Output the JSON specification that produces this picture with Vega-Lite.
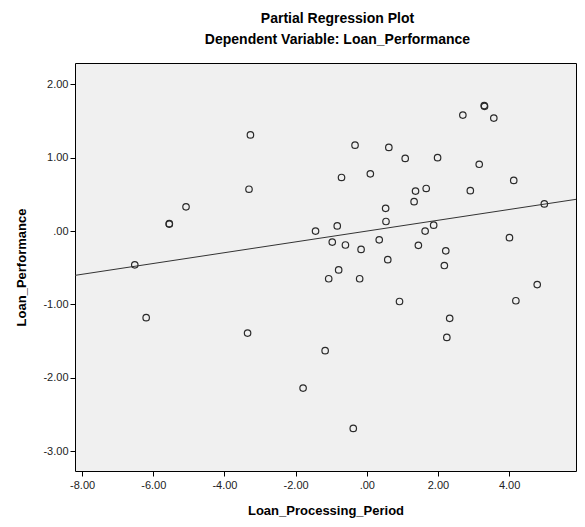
{
  "$schema": "https://vega.github.io/schema/vega-lite/v6.json",
  "width": 501,
  "height": 408,
  "autosize": {"type": "none"},
  "padding": {"left": 75, "top": 63, "right": 9, "bottom": 56},
  "background": "white",
  "config": {
    "view": {"fill": "#f0f0f0", "stroke": "#000000", "strokeWidth": 1},
    "font": "Liberation Sans"
  },
  "title": {
    "text": "Partial Regression Plot",
    "subtitle": "Dependent Variable: Loan_Performance",
    "font": "Liberation Sans",
    "subtitleFont": "Liberation Sans",
    "fontSize": 14,
    "subtitleFontSize": 14,
    "fontWeight": "bold",
    "subtitleFontWeight": "bold",
    "color": "#000000",
    "subtitleColor": "#000000",
    "anchor": "middle",
    "dx": 12,
    "offset": 16,
    "subtitlePadding": 7
  },
  "datasets": {
    "points": [
      {"x": -6.52, "y": -0.46}, {"x": -6.20, "y": -1.18}, {"x": -5.55, "y": 0.095}, {"x": -5.55, "y": 0.10},
      {"x": -5.08, "y": 0.33}, {"x": -3.27, "y": 1.31}, {"x": -3.31, "y": 0.57}, {"x": -3.35, "y": -1.39},
      {"x": -1.44, "y": 0.0}, {"x": -1.79, "y": -2.14}, {"x": -1.17, "y": -1.63}, {"x": -0.38, "y": -2.69},
      {"x": -0.33, "y": 1.17}, {"x": 0.62, "y": 1.14}, {"x": 1.08, "y": 0.99}, {"x": 1.99, "y": 1.0},
      {"x": 3.16, "y": 0.91}, {"x": -0.71, "y": 0.73}, {"x": 0.10, "y": 0.78}, {"x": 4.13, "y": 0.69},
      {"x": 1.37, "y": 0.545}, {"x": 1.67, "y": 0.58}, {"x": 2.91, "y": 0.55}, {"x": 1.33, "y": 0.40},
      {"x": 0.53, "y": 0.31}, {"x": 4.99, "y": 0.37}, {"x": 0.54, "y": 0.13}, {"x": -0.83, "y": 0.07},
      {"x": 1.88, "y": 0.08}, {"x": 1.64, "y": 0.0}, {"x": -0.97, "y": -0.15}, {"x": -0.60, "y": -0.19},
      {"x": -0.16, "y": -0.25}, {"x": 0.35, "y": -0.12}, {"x": 1.45, "y": -0.195}, {"x": 4.01, "y": -0.09},
      {"x": 2.22, "y": -0.27}, {"x": 0.59, "y": -0.39}, {"x": 2.18, "y": -0.47}, {"x": -0.79, "y": -0.53},
      {"x": -1.07, "y": -0.65}, {"x": -0.20, "y": -0.65}, {"x": 0.92, "y": -0.96}, {"x": 2.33, "y": -1.19},
      {"x": 2.25, "y": -1.45}, {"x": 4.79, "y": -0.73}, {"x": 4.19, "y": -0.95}, {"x": 3.30, "y": 1.71},
      {"x": 3.31, "y": 1.70}, {"x": 2.70, "y": 1.58}, {"x": 3.57, "y": 1.54}
    ],
    "fit": [
      {"x": -8.2, "y": -0.604},
      {"x": 5.88, "y": 0.432}
    ]
  },
  "layer": [
    {
      "data": {"name": "fit"},
      "mark": {"type": "line", "color": "#333333", "strokeWidth": 1, "clip": true},
      "encoding": {
        "x": {"field": "x", "type": "quantitative"},
        "y": {"field": "y", "type": "quantitative"}
      }
    },
    {
      "data": {"name": "points"},
      "mark": {"type": "point", "shape": "circle", "filled": false, "stroke": "#2a2a2a", "strokeWidth": 1.2, "size": 42, "opacity": 1},
      "encoding": {
        "x": {
          "field": "x", "type": "quantitative",
          "scale": {"domain": [-8.2, 5.88], "nice": false, "zero": false},
          "axis": {
            "title": "Loan_Processing_Period",
            "values": [-8, -6, -4, -2, 0, 2, 4],
            "labelExpr": "datum.value == 0 ? '.00' : replace(format(datum.value, '.2f'), '\u2212', '-')",
            "grid": false, "domain": false,
            "tickColor": "#000000", "tickSize": 5, "tickWidth": 1,
            "labelFont": "Liberation Sans", "labelFontSize": 11, "labelColor": "#222222", "labelPadding": 3,
            "titleFont": "Liberation Sans", "titleFontSize": 13, "titleFontWeight": "bold", "titleColor": "#000000", "titlePadding": 14
          }
        },
        "y": {
          "field": "y", "type": "quantitative",
          "scale": {"domain": [-3.27, 2.29], "nice": false, "zero": false},
          "axis": {
            "title": "Loan_Performance",
            "values": [-3, -2, -1, 0, 1, 2],
            "labelExpr": "datum.value == 0 ? '.00' : replace(format(datum.value, '.2f'), '\u2212', '-')",
            "grid": false, "domain": false,
            "tickColor": "#000000", "tickSize": 5, "tickWidth": 1,
            "labelFont": "Liberation Sans", "labelFontSize": 11, "labelColor": "#222222", "labelPadding": 2,
            "titleFont": "Liberation Sans", "titleFontSize": 13, "titleFontWeight": "bold", "titleColor": "#000000", "titlePadding": 14
          }
        }
      }
    }
  ]
}
